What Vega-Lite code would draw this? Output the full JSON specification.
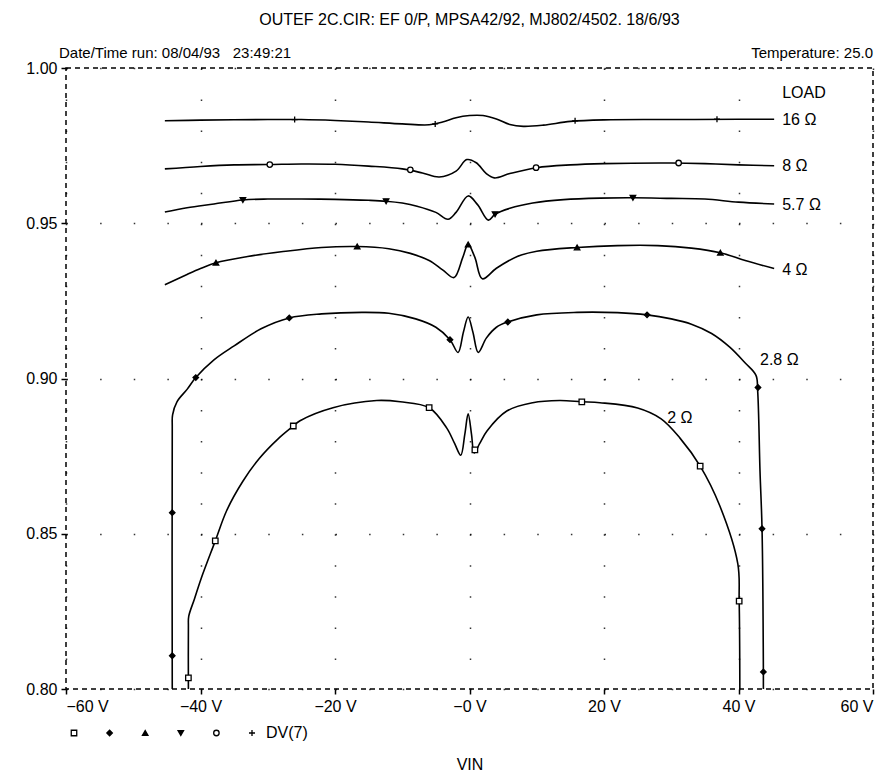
{
  "$schema": "https://vega.github.io/schema/vega-lite/v6.json",
  "width": 807,
  "height": 621,
  "autosize": {"type": "none"},
  "padding": {"left": 66, "top": 68, "right": 22, "bottom": 82},
  "background": "white",
  "title": {"text": "OUTEF 2C.CIR: EF 0/P, MPSA42/92, MJ802/4502. 18/6/93", "anchor": "middle", "frame": "group", "fontSize": 16, "font": "Liberation Sans", "fontWeight": "normal", "color": "black", "offset": 18},
  "datasets": {
    "curves": [
      {"load": "16 Ω", "i": 0, "v": -45.3, "y": 0.9830},
      {"load": "16 Ω", "i": 1, "v": -40, "y": 0.9832},
      {"load": "16 Ω", "i": 2, "v": -30, "y": 0.9834},
      {"load": "16 Ω", "i": 3, "v": -25, "y": 0.9834},
      {"load": "16 Ω", "i": 4, "v": -20, "y": 0.9831},
      {"load": "16 Ω", "i": 5, "v": -15, "y": 0.9826},
      {"load": "16 Ω", "i": 6, "v": -10, "y": 0.9820},
      {"load": "16 Ω", "i": 7, "v": -6, "y": 0.9817},
      {"load": "16 Ω", "i": 8, "v": -4, "y": 0.9826},
      {"load": "16 Ω", "i": 9, "v": -2, "y": 0.9840},
      {"load": "16 Ω", "i": 10, "v": 0, "y": 0.9847},
      {"load": "16 Ω", "i": 11, "v": 2, "y": 0.9847},
      {"load": "16 Ω", "i": 12, "v": 4, "y": 0.9836},
      {"load": "16 Ω", "i": 13, "v": 6, "y": 0.9818},
      {"load": "16 Ω", "i": 14, "v": 8, "y": 0.9812},
      {"load": "16 Ω", "i": 15, "v": 11, "y": 0.9816},
      {"load": "16 Ω", "i": 16, "v": 15, "y": 0.9828},
      {"load": "16 Ω", "i": 17, "v": 20, "y": 0.9833},
      {"load": "16 Ω", "i": 18, "v": 30, "y": 0.9834},
      {"load": "16 Ω", "i": 19, "v": 40, "y": 0.9835},
      {"load": "16 Ω", "i": 20, "v": 45.3, "y": 0.9835},

      {"load": "8 Ω", "i": 0, "v": -45.3, "y": 0.9675},
      {"load": "8 Ω", "i": 1, "v": -40, "y": 0.9683},
      {"load": "8 Ω", "i": 2, "v": -35, "y": 0.9688},
      {"load": "8 Ω", "i": 3, "v": -30, "y": 0.9689},
      {"load": "8 Ω", "i": 4, "v": -25, "y": 0.9691},
      {"load": "8 Ω", "i": 5, "v": -20, "y": 0.9690},
      {"load": "8 Ω", "i": 6, "v": -15, "y": 0.9684},
      {"load": "8 Ω", "i": 7, "v": -10, "y": 0.9675},
      {"load": "8 Ω", "i": 8, "v": -7, "y": 0.9662},
      {"load": "8 Ω", "i": 9, "v": -4.5, "y": 0.9649},
      {"load": "8 Ω", "i": 10, "v": -2, "y": 0.9668},
      {"load": "8 Ω", "i": 11, "v": -0.4, "y": 0.9705},
      {"load": "8 Ω", "i": 12, "v": 1, "y": 0.9695},
      {"load": "8 Ω", "i": 13, "v": 2.5, "y": 0.9660},
      {"load": "8 Ω", "i": 14, "v": 3.7, "y": 0.9646},
      {"load": "8 Ω", "i": 15, "v": 6, "y": 0.9660},
      {"load": "8 Ω", "i": 16, "v": 10, "y": 0.9679},
      {"load": "8 Ω", "i": 17, "v": 15, "y": 0.9688},
      {"load": "8 Ω", "i": 18, "v": 20, "y": 0.9692},
      {"load": "8 Ω", "i": 19, "v": 30, "y": 0.9694},
      {"load": "8 Ω", "i": 20, "v": 35, "y": 0.9692},
      {"load": "8 Ω", "i": 21, "v": 40, "y": 0.9688},
      {"load": "8 Ω", "i": 22, "v": 45.3, "y": 0.9685},

      {"load": "5.7 Ω", "i": 0, "v": -45.3, "y": 0.9536},
      {"load": "5.7 Ω", "i": 1, "v": -42, "y": 0.9550},
      {"load": "5.7 Ω", "i": 2, "v": -38, "y": 0.9562},
      {"load": "5.7 Ω", "i": 3, "v": -33.7, "y": 0.9575},
      {"load": "5.7 Ω", "i": 4, "v": -30, "y": 0.9578},
      {"load": "5.7 Ω", "i": 5, "v": -25, "y": 0.9578},
      {"load": "5.7 Ω", "i": 6, "v": -20, "y": 0.9577},
      {"load": "5.7 Ω", "i": 7, "v": -15, "y": 0.9574},
      {"load": "5.7 Ω", "i": 8, "v": -12.4, "y": 0.9571},
      {"load": "5.7 Ω", "i": 9, "v": -10, "y": 0.9565},
      {"load": "5.7 Ω", "i": 10, "v": -7.8, "y": 0.9555},
      {"load": "5.7 Ω", "i": 11, "v": -5, "y": 0.9535},
      {"load": "5.7 Ω", "i": 12, "v": -3.2, "y": 0.9513},
      {"load": "5.7 Ω", "i": 13, "v": -2, "y": 0.9535},
      {"load": "5.7 Ω", "i": 14, "v": -0.2, "y": 0.9588},
      {"load": "5.7 Ω", "i": 15, "v": 1.2, "y": 0.9560},
      {"load": "5.7 Ω", "i": 16, "v": 2.8, "y": 0.9510},
      {"load": "5.7 Ω", "i": 17, "v": 3.8, "y": 0.9529},
      {"load": "5.7 Ω", "i": 18, "v": 6, "y": 0.9548},
      {"load": "5.7 Ω", "i": 19, "v": 9.4, "y": 0.9565},
      {"load": "5.7 Ω", "i": 20, "v": 14, "y": 0.9576},
      {"load": "5.7 Ω", "i": 21, "v": 19.4, "y": 0.9581},
      {"load": "5.7 Ω", "i": 22, "v": 24.3, "y": 0.9582},
      {"load": "5.7 Ω", "i": 23, "v": 30, "y": 0.9580},
      {"load": "5.7 Ω", "i": 24, "v": 35, "y": 0.9578},
      {"load": "5.7 Ω", "i": 25, "v": 40, "y": 0.9568},
      {"load": "5.7 Ω", "i": 26, "v": 45.3, "y": 0.9562},

      {"load": "4 Ω", "i": 0, "v": -45.3, "y": 0.9302},
      {"load": "4 Ω", "i": 1, "v": -42, "y": 0.9335},
      {"load": "4 Ω", "i": 2, "v": -40, "y": 0.9354},
      {"load": "4 Ω", "i": 3, "v": -37.7, "y": 0.9373},
      {"load": "4 Ω", "i": 4, "v": -33, "y": 0.9393},
      {"load": "4 Ω", "i": 5, "v": -28, "y": 0.9408},
      {"load": "4 Ω", "i": 6, "v": -22, "y": 0.9422},
      {"load": "4 Ω", "i": 7, "v": -16.7, "y": 0.9425},
      {"load": "4 Ω", "i": 8, "v": -12, "y": 0.9418},
      {"load": "4 Ω", "i": 9, "v": -8.8, "y": 0.9403},
      {"load": "4 Ω", "i": 10, "v": -6, "y": 0.9380},
      {"load": "4 Ω", "i": 11, "v": -4, "y": 0.9350},
      {"load": "4 Ω", "i": 12, "v": -2.3, "y": 0.9325},
      {"load": "4 Ω", "i": 13, "v": -1, "y": 0.9390},
      {"load": "4 Ω", "i": 14, "v": -0.2, "y": 0.9432},
      {"load": "4 Ω", "i": 15, "v": 0.8, "y": 0.9390},
      {"load": "4 Ω", "i": 16, "v": 1.9, "y": 0.9321},
      {"load": "4 Ω", "i": 17, "v": 4, "y": 0.9355},
      {"load": "4 Ω", "i": 18, "v": 7.1, "y": 0.9393},
      {"load": "4 Ω", "i": 19, "v": 10, "y": 0.9410},
      {"load": "4 Ω", "i": 20, "v": 16, "y": 0.9422},
      {"load": "4 Ω", "i": 21, "v": 22, "y": 0.9428},
      {"load": "4 Ω", "i": 22, "v": 28, "y": 0.9428},
      {"load": "4 Ω", "i": 23, "v": 33, "y": 0.9420},
      {"load": "4 Ω", "i": 24, "v": 37.3, "y": 0.9405},
      {"load": "4 Ω", "i": 25, "v": 41, "y": 0.9380},
      {"load": "4 Ω", "i": 26, "v": 45.3, "y": 0.9354},

      {"load": "2.8 Ω", "i": 0, "v": -44.2, "y": 0.800},
      {"load": "2.8 Ω", "i": 1, "v": -44.2, "y": 0.8840},
      {"load": "2.8 Ω", "i": 2, "v": -44.15, "y": 0.8883},
      {"load": "2.8 Ω", "i": 3, "v": -43.5, "y": 0.8925},
      {"load": "2.8 Ω", "i": 4, "v": -42, "y": 0.8965},
      {"load": "2.8 Ω", "i": 5, "v": -40.7, "y": 0.9003},
      {"load": "2.8 Ω", "i": 6, "v": -38, "y": 0.9060},
      {"load": "2.8 Ω", "i": 7, "v": -35, "y": 0.9105},
      {"load": "2.8 Ω", "i": 8, "v": -31, "y": 0.9160},
      {"load": "2.8 Ω", "i": 9, "v": -26.8, "y": 0.9195},
      {"load": "2.8 Ω", "i": 10, "v": -22, "y": 0.9208},
      {"load": "2.8 Ω", "i": 11, "v": -16, "y": 0.9213},
      {"load": "2.8 Ω", "i": 12, "v": -12, "y": 0.9210},
      {"load": "2.8 Ω", "i": 13, "v": -8, "y": 0.9192},
      {"load": "2.8 Ω", "i": 14, "v": -5, "y": 0.9165},
      {"load": "2.8 Ω", "i": 15, "v": -2.9, "y": 0.9125},
      {"load": "2.8 Ω", "i": 16, "v": -1.7, "y": 0.9084},
      {"load": "2.8 Ω", "i": 17, "v": -0.9, "y": 0.9150},
      {"load": "2.8 Ω", "i": 18, "v": -0.2, "y": 0.9198},
      {"load": "2.8 Ω", "i": 19, "v": 0.5, "y": 0.9150},
      {"load": "2.8 Ω", "i": 20, "v": 1.3, "y": 0.9084},
      {"load": "2.8 Ω", "i": 21, "v": 2.5, "y": 0.9130},
      {"load": "2.8 Ω", "i": 22, "v": 4, "y": 0.9165},
      {"load": "2.8 Ω", "i": 23, "v": 5.7, "y": 0.9182},
      {"load": "2.8 Ω", "i": 24, "v": 10, "y": 0.9205},
      {"load": "2.8 Ω", "i": 25, "v": 16, "y": 0.9213},
      {"load": "2.8 Ω", "i": 26, "v": 22, "y": 0.9212},
      {"load": "2.8 Ω", "i": 27, "v": 26.4, "y": 0.9205},
      {"load": "2.8 Ω", "i": 28, "v": 30, "y": 0.9192},
      {"load": "2.8 Ω", "i": 29, "v": 33, "y": 0.9175},
      {"load": "2.8 Ω", "i": 30, "v": 36, "y": 0.9145},
      {"load": "2.8 Ω", "i": 31, "v": 38.7, "y": 0.9101},
      {"load": "2.8 Ω", "i": 32, "v": 41, "y": 0.9050},
      {"load": "2.8 Ω", "i": 33, "v": 42.6, "y": 0.9010},
      {"load": "2.8 Ω", "i": 34, "v": 42.85, "y": 0.8960},
      {"load": "2.8 Ω", "i": 35, "v": 43.2, "y": 0.8700},
      {"load": "2.8 Ω", "i": 36, "v": 43.5, "y": 0.8516},
      {"load": "2.8 Ω", "i": 37, "v": 43.7, "y": 0.8055},
      {"load": "2.8 Ω", "i": 38, "v": 43.7, "y": 0.800},

      {"load": "2 Ω", "i": 0, "v": -41.8, "y": 0.800},
      {"load": "2 Ω", "i": 1, "v": -41.8, "y": 0.8200},
      {"load": "2 Ω", "i": 2, "v": -41.75, "y": 0.8234},
      {"load": "2 Ω", "i": 3, "v": -40.9, "y": 0.8290},
      {"load": "2 Ω", "i": 4, "v": -39.9, "y": 0.8356},
      {"load": "2 Ω", "i": 5, "v": -37.8, "y": 0.8477},
      {"load": "2 Ω", "i": 6, "v": -36.1, "y": 0.8575},
      {"load": "2 Ω", "i": 7, "v": -33.7, "y": 0.8669},
      {"load": "2 Ω", "i": 8, "v": -31.2, "y": 0.8744},
      {"load": "2 Ω", "i": 9, "v": -28.5, "y": 0.8805},
      {"load": "2 Ω", "i": 10, "v": -26.2, "y": 0.8847},
      {"load": "2 Ω", "i": 11, "v": -25.2, "y": 0.8864},
      {"load": "2 Ω", "i": 12, "v": -20.3, "y": 0.8906},
      {"load": "2 Ω", "i": 13, "v": -13.8, "y": 0.8929},
      {"load": "2 Ω", "i": 14, "v": -10.3, "y": 0.8925},
      {"load": "2 Ω", "i": 15, "v": -6.0, "y": 0.8906},
      {"load": "2 Ω", "i": 16, "v": -3.4, "y": 0.8841},
      {"load": "2 Ω", "i": 17, "v": -2.2, "y": 0.8790},
      {"load": "2 Ω", "i": 18, "v": -1.3, "y": 0.8753},
      {"load": "2 Ω", "i": 19, "v": -0.7, "y": 0.8820},
      {"load": "2 Ω", "i": 20, "v": -0.2, "y": 0.8886},
      {"load": "2 Ω", "i": 21, "v": 0.3, "y": 0.8820},
      {"load": "2 Ω", "i": 22, "v": 0.7, "y": 0.8760},
      {"load": "2 Ω", "i": 23, "v": 1.5, "y": 0.8790},
      {"load": "2 Ω", "i": 24, "v": 2.6, "y": 0.8831},
      {"load": "2 Ω", "i": 25, "v": 5.6, "y": 0.8896},
      {"load": "2 Ω", "i": 26, "v": 9.4, "y": 0.8922},
      {"load": "2 Ω", "i": 27, "v": 13.4, "y": 0.8929},
      {"load": "2 Ω", "i": 28, "v": 16.7, "y": 0.8925},
      {"load": "2 Ω", "i": 29, "v": 19.4, "y": 0.8922},
      {"load": "2 Ω", "i": 30, "v": 25, "y": 0.8905},
      {"load": "2 Ω", "i": 31, "v": 28.5, "y": 0.8870},
      {"load": "2 Ω", "i": 32, "v": 31.3, "y": 0.8808},
      {"load": "2 Ω", "i": 33, "v": 34.3, "y": 0.8718},
      {"load": "2 Ω", "i": 34, "v": 37.2, "y": 0.8591},
      {"load": "2 Ω", "i": 35, "v": 39.9, "y": 0.8403},
      {"load": "2 Ω", "i": 36, "v": 40.1, "y": 0.8283},
      {"load": "2 Ω", "i": 37, "v": 40.2, "y": 0.800}
    ],
    "markers": [
      {"load": "2 Ω", "v": -41.8, "y": 0.8036},
      {"load": "2 Ω", "v": -37.8, "y": 0.8477},
      {"load": "2 Ω", "v": -26.2, "y": 0.8847},
      {"load": "2 Ω", "v": -6.0, "y": 0.8906},
      {"load": "2 Ω", "v": 0.8, "y": 0.8770},
      {"load": "2 Ω", "v": 16.7, "y": 0.8925},
      {"load": "2 Ω", "v": 34.3, "y": 0.8718},
      {"load": "2 Ω", "v": 40.1, "y": 0.8283},
      {"load": "2.8 Ω", "v": -44.2, "y": 0.8107},
      {"load": "2.8 Ω", "v": -44.2, "y": 0.8568},
      {"load": "2.8 Ω", "v": -40.7, "y": 0.9003},
      {"load": "2.8 Ω", "v": -26.8, "y": 0.9195},
      {"load": "2.8 Ω", "v": -2.9, "y": 0.9125},
      {"load": "2.8 Ω", "v": 5.7, "y": 0.9182},
      {"load": "2.8 Ω", "v": 26.4, "y": 0.9205},
      {"load": "2.8 Ω", "v": 42.9, "y": 0.8971},
      {"load": "2.8 Ω", "v": 43.5, "y": 0.8516},
      {"load": "2.8 Ω", "v": 43.7, "y": 0.8055},
      {"load": "4 Ω", "v": -37.7, "y": 0.9373},
      {"load": "4 Ω", "v": -16.7, "y": 0.9425},
      {"load": "4 Ω", "v": -0.2, "y": 0.9432},
      {"load": "4 Ω", "v": 16, "y": 0.9422},
      {"load": "4 Ω", "v": 37.3, "y": 0.9405},
      {"load": "5.7 Ω", "v": -33.7, "y": 0.9575},
      {"load": "5.7 Ω", "v": -12.4, "y": 0.9571},
      {"load": "5.7 Ω", "v": 3.8, "y": 0.9529},
      {"load": "5.7 Ω", "v": 24.3, "y": 0.9582},
      {"load": "8 Ω", "v": -29.7, "y": 0.9689},
      {"load": "8 Ω", "v": -8.8, "y": 0.9672},
      {"load": "8 Ω", "v": 9.9, "y": 0.9679},
      {"load": "8 Ω", "v": 31.1, "y": 0.9694},
      {"load": "16 Ω", "v": -26, "y": 0.9834},
      {"load": "16 Ω", "v": -5.1, "y": 0.9820},
      {"load": "16 Ω", "v": 15.7, "y": 0.9830},
      {"load": "16 Ω", "v": 36.8, "y": 0.9835}
    ],
    "labels": [
      {"t": "LOAD", "v": 46.5, "y": 0.9919},
      {"t": "16 Ω", "v": 46.5, "y": 0.9834},
      {"t": "8 Ω", "v": 46.5, "y": 0.9685},
      {"t": "5.7 Ω", "v": 46.5, "y": 0.9558},
      {"t": "4 Ω", "v": 46.5, "y": 0.9351},
      {"t": "2.8 Ω", "v": 43.2, "y": 0.9058},
      {"t": "2 Ω", "v": 29.4, "y": 0.8873}
    ]
  },
  "layer": [
    {
      "data": {"name": "curves"},
      "mark": {"type": "line", "color": "black", "strokeWidth": 1.6, "interpolate": "catmull-rom", "clip": true},
      "encoding": {
        "x": {"field": "v", "type": "quantitative", "title": "VIN",
          "scale": {"domain": [-60, 60], "nice": false, "zero": false},
          "axis": {"values": [-60, -40, -20, 0, 20, 40, 60], "labelExpr": "datum.value < 0 ? '−' + abs(datum.value) + ' V' : (datum.value == 0 ? '−0 V' : datum.value + ' V')",
            "grid": true, "gridColor": "black", "gridWidth": 1.5, "gridDash": [1.5, 29.55], "gridOpacity": 0.8,
            "tickSize": 5, "tickWidth": 1.5, "tickColor": "black", "labelPadding": 4, "titlePadding": 42}},
        "y": {"field": "y", "type": "quantitative", "title": null,
          "scale": {"domain": [0.8, 1.0], "nice": false, "zero": false},
          "axis": {"values": [0.8, 0.85, 0.9, 0.95, 1.0], "format": ".2f",
            "grid": true, "gridColor": "black", "gridWidth": 1.5, "gridDash": [1.5, 32.125], "gridOpacity": 0.8,
            "tickSize": 5, "tickWidth": 1.5, "tickColor": "black", "labelPadding": 4}},
        "detail": {"field": "load", "type": "nominal"},
        "order": {"field": "i", "type": "quantitative"}
      }
    },
    {
      "data": {"name": "markers"},
      "mark": {"type": "point", "filled": true, "stroke": "black", "strokeWidth": 1.3, "size": 30, "opacity": 1},
      "encoding": {
        "x": {"field": "v", "type": "quantitative", "title": "VIN"},
        "y": {"field": "y", "type": "quantitative", "title": null},
        "shape": {"field": "load", "type": "nominal",
          "scale": {"domain": ["2 Ω", "2.8 Ω", "4 Ω", "5.7 Ω", "8 Ω", "16 Ω"], "range": ["square", "diamond", "triangle-up", "triangle-down", "circle", "M-1.1,0H1.1M0,-1.1V1.1"]},
          "legend": {"orient": "none", "legendX": 0, "legendY": 657, "direction": "horizontal", "title": null,
            "labelExpr": "datum.label == '16 Ω' ? 'DV(7)' : ''",
            "symbolSize": 30, "symbolStrokeWidth": 1.3,
            "columnPadding": 13.6, "labelFontSize": 16, "labelFont": "Liberation Sans", "labelColor": "black", "labelOffset": 6,
            "encode": {"symbols": {"update": {"stroke": {"value": "black"}, "strokeWidth": {"value": 1.3}, "opacity": {"value": 1}}}}}},
        "fill": {"field": "load", "type": "nominal",
          "scale": {"domain": ["2 Ω", "2.8 Ω", "4 Ω", "5.7 Ω", "8 Ω", "16 Ω"], "range": ["white", "black", "black", "black", "white", "black"]}}
      }
    },
    {
      "data": {"name": "labels"},
      "mark": {"type": "text", "align": "left", "baseline": "middle", "font": "Liberation Sans", "fontSize": 16, "color": "black"},
      "encoding": {
        "x": {"field": "v", "type": "quantitative", "title": "VIN"},
        "y": {"field": "y", "type": "quantitative", "title": null},
        "text": {"field": "t", "type": "nominal"}
      }
    },
    {
      "data": {"values": [{}]},
      "mark": {"type": "text", "align": "left", "baseline": "middle", "font": "Liberation Sans", "fontSize": 15, "color": "black", "dx": -7, "dy": -15},
      "encoding": {
        "x": {"datum": -60, "type": "quantitative"},
        "y": {"datum": 1.0, "type": "quantitative"},
        "text": {"value": "Date/Time run: 08/04/93\u00a0\u00a0 23:49:21"}
      }
    },
    {
      "data": {"values": [{}]},
      "mark": {"type": "text", "align": "right", "baseline": "middle", "font": "Liberation Sans", "fontSize": 15, "color": "black", "dx": 0, "dy": -15},
      "encoding": {
        "x": {"datum": 60, "type": "quantitative"},
        "y": {"datum": 1.0, "type": "quantitative"},
        "text": {"value": "Temperature: 25.0"}
      }
    }
  ],
  "config": {
    "view": {"stroke": "black", "strokeDash": [5, 4], "strokeWidth": 1.5},
    "axis": {"domain": false, "labelFont": "Liberation Sans", "labelFontSize": 16, "labelColor": "black", "titleFont": "Liberation Sans", "titleFontSize": 16, "titleFontWeight": "normal", "titleColor": "black"}
  }
}
